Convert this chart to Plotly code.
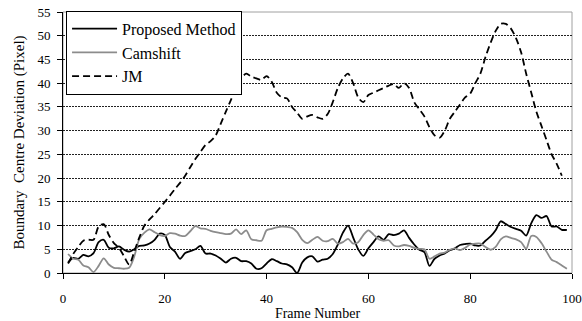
import plotly.graph_objects as go

frames = list(range(1, 100))

proposed = [2.2, 3.2, 3.0, 3.8, 3.5, 4.2, 6.5, 7.0, 5.3, 5.2,
            5.6, 4.9, 4.5, 5.0, 5.7, 5.8, 6.2, 7.0, 8.3, 8.0,
            5.5, 4.5, 3.0, 4.2, 4.6, 5.0, 5.7, 4.1, 4.1, 3.7,
            3.0, 2.2, 3.0, 3.2, 2.5, 2.5, 2.0, 0.9, 1.0, 2.0,
            2.9, 2.5, 2.0, 1.8, 1.2, 0.0, 2.2, 3.3, 3.5, 2.4,
            2.8, 3.0, 4.0, 6.0, 8.5, 10.0, 7.5, 5.0, 3.6, 5.2,
            6.5, 7.7, 7.0, 8.2, 8.0, 8.3, 9.0, 7.4, 6.0, 4.9,
            4.4, 1.5, 3.0, 3.7, 4.1, 4.8, 5.2, 5.9, 6.1, 6.2,
            5.8, 5.8, 6.8, 7.7, 9.0, 10.9, 10.3, 9.7, 9.3, 8.9,
            7.9, 10.5, 12.2, 11.6, 12.0, 9.8, 9.8, 9.1, 9.1]

camshift = [4.0, 3.0, 2.8, 1.6, 1.2, 0.2, 1.5, 3.1, 1.8, 1.1,
            1.0, 0.9, 1.1, 3.5, 7.2, 8.5, 9.2, 8.6, 8.0, 7.8,
            8.4, 8.3, 7.9, 7.8, 8.8, 9.9, 9.4, 9.3, 8.9, 8.6,
            8.4, 8.2, 8.3, 9.2, 8.2, 9.0, 7.1, 6.9, 6.8, 9.0,
            9.3, 9.6, 9.8, 9.7, 9.5, 8.6, 7.0, 6.3, 7.0, 7.6,
            6.8, 6.7, 7.2, 6.2, 6.5, 7.2, 6.2, 6.5, 8.0, 9.0,
            8.1, 7.1, 6.8, 6.9, 5.8, 5.6, 5.9, 5.7, 5.3, 5.1,
            5.0, 3.0, 3.5, 4.1, 4.3, 4.9, 5.2, 4.8, 5.3, 6.0,
            6.2, 6.2, 5.5, 4.9, 5.5, 7.1, 7.7, 7.4, 7.1, 6.5,
            5.1, 7.8, 7.6, 6.3, 4.5, 2.8, 2.3, 1.6, 0.9]

jm = [2.0, 4.0, 5.5, 6.8, 7.0, 7.0, 9.8, 10.3, 8.0, 6.3,
      5.3, 3.5, 1.8, 4.5, 7.5, 10.0, 11.3, 12.4, 13.7, 15.0,
      16.3, 17.7, 19.0, 20.5, 22.3, 24.0, 25.5, 27.0, 27.8, 29.0,
      31.5, 34.0, 36.5, 39.0, 41.0, 42.0, 41.4, 41.0, 40.7, 41.5,
      40.3, 38.0, 37.0, 36.8, 35.0, 33.8, 32.5, 33.0, 33.3, 32.8,
      32.5, 33.5, 36.0, 39.0, 41.0, 42.0, 40.0, 37.0, 36.0, 37.5,
      38.0, 38.5, 39.0, 39.5, 39.8, 39.0, 40.0, 39.0, 36.0, 34.5,
      33.0, 30.7, 29.0, 28.5, 30.0, 32.5, 34.0, 35.5, 37.0, 37.8,
      40.0, 42.0, 45.5, 48.5, 51.0, 52.5, 52.5, 51.5, 49.5, 46.5,
      42.0, 38.0, 34.0, 31.0, 28.0, 25.0, 23.0, 20.5]
jm_frames = frames[:len(jm)]

x_ticks = [0, 20, 40, 60, 80, 100]
y_ticks = list(range(0, 56, 5))

FONT = "Liberation Serif, Times New Roman, DejaVu Serif, serif"

fig = go.Figure()
fig.add_trace(go.Scatter(x=frames, y=proposed, mode="lines", name="Proposed Method",
                         line=dict(color="black", width=1.8, shape="spline", smoothing=0.8)))
fig.add_trace(go.Scatter(x=frames, y=camshift, mode="lines", name="Camshift",
                         line=dict(color="#8c8c8c", width=1.8, shape="spline", smoothing=0.8)))
fig.add_trace(go.Scatter(x=jm_frames, y=jm, mode="lines", name="JM",
                         line=dict(color="black", width=1.8, dash="7px,4px", shape="spline", smoothing=0.8)))

fig.add_shape(type="rect", xref="paper", yref="paper", x0=0, x1=1, y0=0, y1=1,
              line=dict(color="#a0a0a0", width=1), layer="below")

fig.update_layout(
    width=582, height=321,
    margin=dict(l=63, r=10, t=12, b=48, autoexpand=False),
    paper_bgcolor="white", plot_bgcolor="white",
    font=dict(family=FONT, color="black", size=13),
    showlegend=True,
    legend=dict(x=0.006, y=1.005, xanchor="left", yanchor="top",
                bordercolor="black", borderwidth=1, bgcolor="white",
                font=dict(family=FONT, size=16, color="black"),
                tracegroupgap=0, itemwidth=45),
    xaxis=dict(range=[0, 100], tickvals=x_ticks, ticks="outside", ticklen=5,
               tickcolor="black", showline=True, linecolor="black", linewidth=1,
               showgrid=False, zeroline=False, ticklabelstandoff=8, automargin=False,
               tickfont=dict(family=FONT, size=13),
               title=dict(text="Frame Number", font=dict(family=FONT, size=14), standoff=4)),
    yaxis=dict(range=[0, 55], tickvals=y_ticks, ticks="outside", ticklen=5,
               tickcolor="black", showline=True, linecolor="black", linewidth=1,
               showgrid=True, gridcolor="#222222", gridwidth=1, griddash="2px,1px",
               zeroline=False, ticklabelstandoff=4, automargin=False,
               tickfont=dict(family=FONT, size=13),
               title=dict(text="Boundary  Centre Deviation (Pixel)",
                          font=dict(family=FONT, size=15), standoff=9)),
)

fig.write_html("out.html")
